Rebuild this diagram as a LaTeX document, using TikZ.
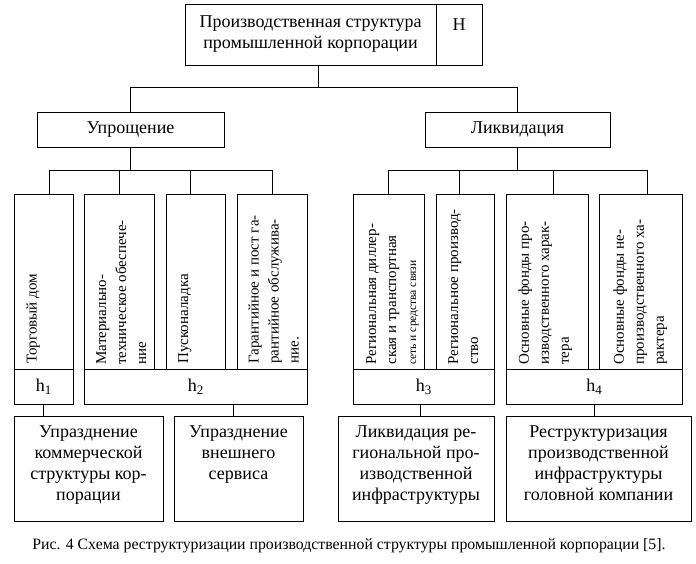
\documentclass[tikz,border=0pt]{standalone}
\usepackage{fontspec}
\setmainfont{Liberation Serif}
\usetikzlibrary{calc}
\newcommand\bigf{\fontsize{18}{21}\selectfont}
\newcommand\vf{\fontsize{15}{20}\selectfont}
\newcommand\hsub[1]{h\raisebox{-0.35ex}{\fontsize{13}{13}\selectfont #1}}
\begin{document}
\begin{tikzpicture}[x=1pt,y=-1pt,line width=0.8pt,
  box/.style={draw, anchor=north west, inner sep=0pt, outer sep=0pt},
  tall/.style={box, minimum height=175pt},
  hrow/.style={box, minimum height=35pt, font=\bigf},
  res/.style={box, minimum height=105pt},
  vt/.style={rotate=90, anchor=north west, align=left, inner sep=0pt, font=\vf},
  rt/.style={anchor=north, align=center, inner sep=0pt, font=\bigf},
  conn/.style={draw}]
\path[use as bounding box] (0,0) rectangle (696,564);
% top
\node[box, minimum width=251pt, minimum height=61pt, align=center, font=\bigf] (top) at (185,4) {Производственная структура\\промышленной корпорации};
\node[box, minimum width=46pt, minimum height=61pt] (hb) at (436,4) {};
\node[font=\bigf, inner sep=0pt] (H) at (459,25) {H};
% second level
\node[box, minimum width=187pt, minimum height=35pt, font=\bigf] (upr) at (37,112) {Упрощение};
\node[box, minimum width=185pt, minimum height=35pt, font=\bigf] (likv) at (425,112) {Ликвидация};
% tall boxes
\node[tall, minimum width=59pt] (b1) at (14,194) {};
\node[tall, minimum width=70pt] (b2) at (84,194) {};
\node[tall, minimum width=59pt] (b3) at (166,194) {};
\node[tall, minimum width=70pt] (b4) at (237,194) {};
\node[tall, minimum width=71pt] (b5) at (353,194) {};
\node[tall, minimum width=58pt] (b6) at (436,194) {};
\node[tall, minimum width=82pt] (b7) at (506,194) {};
\node[tall, minimum width=83pt] (b8) at (599,194) {};
% rotated texts
\node[vt] (t1) at ([shift={(12,-5)}]b1.south west) {Торговый дом};
\node[vt] (t2) at ([shift={(12,-4)}]b2.south west) {Материально-\\техническое обеспече-\\ние};
\node[vt] (t3) at ([shift={(12,-5)}]b3.south west) {Пусконаладка};
\node[vt] (t4) at ([shift={(11,-5)}]b4.south west) {Гарантийное и пост га-\\рантийное обслужива-\\ние.};
\node[vt] (t5) at ([shift={(13,-4)}]b5.south west) {Региональная диллер-\\ская и транспортная\\{\fontsize{11.5}{12}\selectfont сеть и средства связи}};
\node[vt] (t6) at ([shift={(12,-4)}]b6.south west) {Региональное производ-\\ство};
\node[vt] (t7) at ([shift={(12,-4)}]b7.south west) {Основные фонды про-\\изводственного харак-\\тера};
\node[vt] (t8) at ([shift={(14,-4)}]b8.south west) {Основные фонды не-\\производственного ха-\\рактера};
% h rows
\node[hrow, minimum width=59pt] (h1) at (14,369) {\hsub{1}};
\node[hrow, minimum width=223pt] (h2) at (84,369) {\hsub{2}};
\node[hrow, minimum width=141pt] (h3) at (353,369) {\hsub{3}};
\node[hrow, minimum width=176pt] (h4) at (506,369) {\hsub{4}};
% result boxes
\node[res, minimum width=149pt] (r1) at (14,416) {};
\node[res, minimum width=129pt] (r2) at (174,416) {};
\node[res, minimum width=156pt] (r3) at (338,416) {};
\node[res, minimum width=185pt] (r4) at (506,416) {};
\node[rt] (s1) at ([yshift=-9pt]r1.north) {Упразднение\\коммерческой\\структуры кор-\\порации};
\node[rt] (s2) at ([yshift=-9pt]r2.north) {Упразднение\\внешнего\\сервиса};
\node[rt] (s3) at ([yshift=-9pt]r3.north) {Ликвидация ре-\\гиональной про-\\изводственной\\инфраструктуры};
\node[rt] (s4) at ([yshift=-9pt]r4.north) {Реструктуризация\\производственной\\инфраструктуры\\головной компании};
% caption
\node[font=\fontsize{15.8}{18}\selectfont, inner sep=0pt] (cap) at (349,546) {Рис. 4 Схема реструктуризации производственной структуры промышленной корпорации [5].};
% connectors
\draw ([xshift=7.5pt]top.south) -- ++(0,22) coordinate (tb);
\draw (upr.north) -- ++(0,-25) -| (likv.north);
\draw (upr.south) -- ++(0,23) coordinate (ub);
\draw ([xshift=5.5pt]b1.north) -- ++(0,-24) -| (b4.north);
\draw (b2.north) -- ++(0,-24);
\draw ([xshift=-5.5pt]b3.north) -- ++(0,-24);
\draw (likv.south) -- ++(0,23) coordinate (lb);
\draw (b5.north) -- ++(0,-24) -| ([xshift=6.5pt]b8.north);
\draw ([xshift=-6pt]b6.north) -- ++(0,-24);
\draw ([xshift=6pt]b7.north) -- ++(0,-24);
\draw (h1.south) -- (h1.south |- r1.north);
\draw ([xshift=-5.5pt]r2.north) -- ++(0,-12);
\draw ([xshift=-3.5pt]h3.south) -- ++(0,12);
\draw (h4.south) -- (h4.south |- r4.north);
\end{tikzpicture}
\end{document}
